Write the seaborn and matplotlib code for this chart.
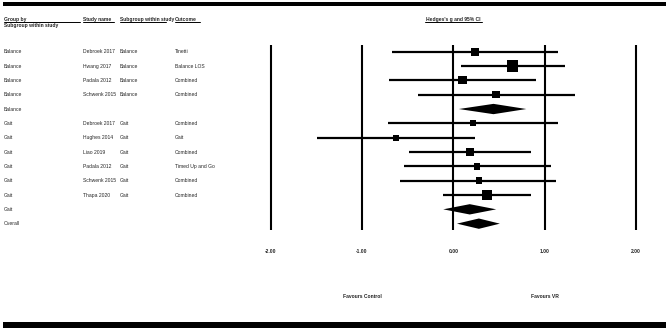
import numpy as np
import pandas as pd
import matplotlib
matplotlib.use("Agg")
import matplotlib.pyplot as plt
import seaborn as sns

# datos del forest plot
grupos = ["Balance", "Balance", "Balance", "Balance", "Balance",
          "Gait", "Gait", "Gait", "Gait", "Gait", "Gait", "Gait", "Overall"]
estudios = ["Debroek 2017", "Hwang 2017", "Padala 2012", "Schwenk 2015", "",
            "Debroek 2017", "Hughes 2014", "Liao 2019", "Padala 2012",
            "Schwenk 2015", "Thapa 2020", "", ""]
subgrupos = ["Balance", "Balance", "Balance", "Balance", "",
             "Gait", "Gait", "Gait", "Gait", "Gait", "Gait", "", ""]
outcomes = ["Tinetti", "Balance LOS", "Combined", "Combined", "",
            "Combined", "Gait", "Combined", "Timed Up and Go", "Combined",
            "Combined", "", ""]
g = [0.24, 0.65, 0.10, 0.47, 0.44,
     0.22, -0.63, 0.18, 0.26, 0.28, 0.37, 0.18, 0.28]
ci_low = [-0.67, 0.08, -0.70, -0.39, 0.06,
          -0.71, -1.49, -0.49, -0.54, -0.58, -0.11, -0.11, 0.04]
ci_high = [1.15, 1.22, 0.91, 1.33, 0.80,
           1.15, 0.24, 0.85, 1.07, 1.13, 0.85, 0.47, 0.51]
peso = [53, 128, 64, 53, 0, 28, 28, 53, 36, 36, 100, 0, 0]
es_resumen = [False, False, False, False, True,
              False, False, False, False, False, False, True, True]
ticks = [-2.0, -1.0, 0.0, 1.0, 2.0]

df = pd.DataFrame({"grupo": grupos, "estudio": estudios, "subgrupo": subgrupos,
                   "outcome": outcomes, "g": g, "lo": ci_low, "hi": ci_high,
                   "peso": peso, "resumen": es_resumen})
df["fila"] = np.arange(len(df))

sns.set_style("white")
plt.rcParams["font.family"] = ["Liberation Sans", "DejaVu Sans"]
fs = 3.6

W, H = 669, 328
fig = plt.figure(figsize=(W / 100, H / 100), dpi=100)
ax = fig.add_axes([0, 0, 1, 1])

# escala: 0 en x=453.3 px, 91.3 px por unidad; fila 0 en y=51.7 px, 14.33 px por fila
x0, kx = 453.3, 91.3
y0, ky = 51.7, 14.33
ax.set_xlim((0 - x0) / kx, (W - x0) / kx)
ax.set_ylim((H - y0) / ky, (0 - y0) / ky)
ax.axis("off")


def px_y(py):
    return (py - y0) / ky


# lineas verticales de referencia
ax.vlines(ticks, px_y(45), px_y(230), color="black", lw=1.5, zorder=1)

estudios_df = df[~df["resumen"]]
resumen_df = df[df["resumen"]]

# intervalos de confianza
ax.hlines(estudios_df["fila"], estudios_df["lo"], estudios_df["hi"],
          color="black", lw=1.6, zorder=2)

# cuadrados de peso
sns.scatterplot(data=estudios_df, x="g", y="fila", size="peso",
                sizes=(18, 66), size_norm=(28, 128), marker="s",
                color="black", edgecolor="none", legend=False, ax=ax, zorder=3)
ax.set_xlabel("")
ax.set_ylabel("")

# diamantes de resumen
h = 0.36
for _, r in resumen_df.iterrows():
    ax.fill([r["lo"], r["g"], r["hi"], r["g"]],
            [r["fila"], r["fila"] - h, r["fila"], r["fila"] + h],
            color="black", lw=0, zorder=3)

# texto de columnas
tr = ax.get_yaxis_transform()
cols = [("grupo", 4), ("estudio", 83), ("subgrupo", 120), ("outcome", 175)]
for _, r in df.iterrows():
    for c, px in cols:
        if r[c]:
            ax.text(px / W, r["fila"], r[c], transform=tr, fontsize=fs,
                    va="center", ha="left")

# cabeceras
hy = px_y(19.5)
for txt, px in [("Group by", 4), ("Study name", 83),
                ("Subgroup within study", 120), ("Outcome", 175)]:
    ax.text(px / W, hy, txt, transform=tr, fontsize=fs, fontweight="bold",
            va="center", ha="left")
ax.text(4 / W, px_y(25.5), "Subgroup within study", transform=tr, fontsize=fs,
        fontweight="bold", va="center", ha="left")
ax.text(0.0, hy, "Hedges's g and 95% CI", fontsize=fs, fontweight="bold",
        va="center", ha="center")
uy = px_y(22.3)
for a, b in [(4, 80), (83, 114), (120, 166), (175, 200)]:
    ax.plot([a / W, b / W], [uy, uy], transform=tr, color="black", lw=0.7)
ax.plot([(425 - x0) / kx, (482 - x0) / kx], [uy, uy], color="black", lw=0.7)

# etiquetas de eje
for t in ticks:
    ax.text(t, px_y(251), f"{t:.2f}", fontsize=fs, fontweight="bold",
            va="center", ha="center")
ax.text(-1.0, px_y(296), "Favours Control", fontsize=fs, fontweight="bold",
        va="center", ha="center")
ax.text(1.0, px_y(296), "Favours VR", fontsize=fs, fontweight="bold",
        va="center", ha="center")

# barras negras superior e inferior
ax.fill_between([3 / W, 666 / W], px_y(1.5), px_y(6), transform=tr,
                color="black", lw=0)
ax.fill_between([3 / W, 666 / W], px_y(321.5), px_y(328), transform=tr,
                color="black", lw=0)

fig.savefig("out.png", dpi=100)
